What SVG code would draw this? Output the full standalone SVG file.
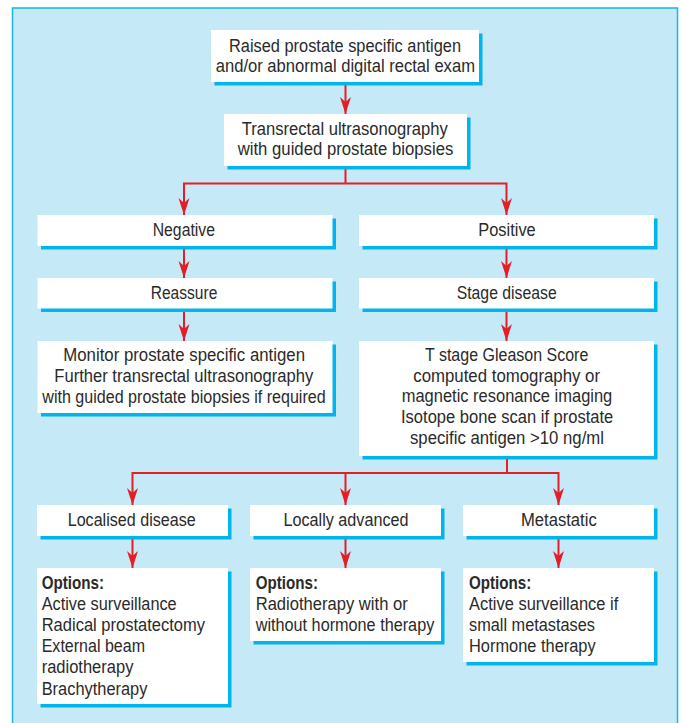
<svg xmlns="http://www.w3.org/2000/svg" width="682" height="723" viewBox="0 0 682 723">
<defs>
<style>
.bx{fill:#ffffff}
.sh{fill:#00B4EC}
.t{font-family:"Liberation Sans Narrow","Liberation Sans",Arial,sans-serif;font-size:17.5px;fill:#2a2a2a}
.b{font-weight:bold}
.c{fill:none;stroke:#E31E26;stroke-width:2;stroke-linejoin:miter}
</style>
<marker id="ah" markerUnits="userSpaceOnUse" markerWidth="18" markerHeight="12" refX="17" refY="6" orient="auto">
<path d="M17,6 L0,0.5 L5,6 L0,11.5 Z" fill="#E31E26"/>
</marker>
</defs>
<rect x="0" y="0" width="682" height="723" fill="#ffffff"/>
<rect id="frame" x="12.5" y="8" width="665" height="730" fill="#C6E9F8" stroke="#17B5EA" stroke-width="1.5"/>

<g id="connectors">
<path class="c" d="M345.5,82 V114" marker-end="url(#ah)"/>
<path class="c" d="M345.5,166 V183.5"/>
<path class="c" d="M345.5,183.5 H184 V215" marker-end="url(#ah)"/>
<path class="c" d="M345.5,183.5 H506.5 V215" marker-end="url(#ah)"/>
<path class="c" d="M184,246 V278" marker-end="url(#ah)"/>
<path class="c" d="M184,308.5 V341" marker-end="url(#ah)"/>
<path class="c" d="M506.5,246 V278" marker-end="url(#ah)"/>
<path class="c" d="M506.5,308.5 V341" marker-end="url(#ah)"/>
<path class="c" d="M507,456 V473"/>
<path class="c" d="M507,473 H132.5 V505" marker-end="url(#ah)"/>
<path class="c" d="M507,473 H558.5 V505" marker-end="url(#ah)"/>
<path class="c" d="M345.5,473 V505" marker-end="url(#ah)"/>
<path class="c" d="M132.5,536 V568" marker-end="url(#ah)"/>
<path class="c" d="M345.5,536 V568" marker-end="url(#ah)"/>
<path class="c" d="M558.5,536 V568" marker-end="url(#ah)"/>
</g>

<g id="n-raised">
<rect class="sh" x="214.5" y="33.5" width="268" height="52"/>
<rect class="bx" x="211" y="30" width="268" height="52"/>
<text class="t" x="229" y="51.5" textLength="232" lengthAdjust="spacingAndGlyphs">Raised prostate specific antigen</text>
<text class="t" x="215.7" y="71.7" textLength="259.3" lengthAdjust="spacingAndGlyphs">and/or abnormal digital rectal exam</text>
</g>

<g id="n-trus">
<rect class="sh" x="227.5" y="117.5" width="243" height="52"/>
<rect class="bx" x="224" y="114" width="243" height="52"/>
<text class="t" x="241.7" y="134.5" textLength="206" lengthAdjust="spacingAndGlyphs">Transrectal ultrasonography</text>
<text class="t" x="237.7" y="155" textLength="215.6" lengthAdjust="spacingAndGlyphs">with guided prostate biopsies</text>
</g>

<g id="n-negative">
<rect class="sh" x="41" y="218.5" width="295" height="31"/>
<rect class="bx" x="37.5" y="215" width="295" height="31"/>
<text class="t" x="152.7" y="235.5" textLength="62.3" lengthAdjust="spacingAndGlyphs">Negative</text>
</g>

<g id="n-positive">
<rect class="sh" x="362.5" y="218.5" width="295" height="31"/>
<rect class="bx" x="359" y="215" width="295" height="31"/>
<text class="t" x="478.3" y="235.5" textLength="57.4" lengthAdjust="spacingAndGlyphs">Positive</text>
</g>

<g id="n-reassure">
<rect class="sh" x="41" y="281.5" width="295" height="30.5"/>
<rect class="bx" x="37.5" y="278" width="295" height="30.5"/>
<text class="t" x="150.7" y="298.5" textLength="66.6" lengthAdjust="spacingAndGlyphs">Reassure</text>
</g>

<g id="n-stage">
<rect class="sh" x="362.5" y="281.5" width="295" height="30.5"/>
<rect class="bx" x="359" y="278" width="295" height="30.5"/>
<text class="t" x="456.7" y="298.5" textLength="100" lengthAdjust="spacingAndGlyphs">Stage disease</text>
</g>

<g id="n-monitor">
<rect class="sh" x="41" y="344.5" width="295" height="72"/>
<rect class="bx" x="37.5" y="341" width="295" height="72"/>
<text class="t" x="63.3" y="360.7" textLength="241.7" lengthAdjust="spacingAndGlyphs">Monitor prostate specific antigen</text>
<text class="t" x="54.3" y="381.7" textLength="259" lengthAdjust="spacingAndGlyphs">Further transrectal ultrasonography</text>
<text class="t" x="42.3" y="402.7" textLength="283.4" lengthAdjust="spacingAndGlyphs">with guided prostate biopsies if required</text>
</g>

<g id="n-tstage">
<rect class="sh" x="362.5" y="344.5" width="295" height="115"/>
<rect class="bx" x="359" y="341" width="295" height="115"/>
<text class="t" x="425" y="360.5" textLength="163.3" lengthAdjust="spacingAndGlyphs">T stage Gleason Score</text>
<text class="t" x="413.3" y="381.5" textLength="186.7" lengthAdjust="spacingAndGlyphs">computed tomography or</text>
<text class="t" x="401.7" y="402" textLength="210.6" lengthAdjust="spacingAndGlyphs">magnetic resonance imaging</text>
<text class="t" x="401" y="422.8" textLength="212.3" lengthAdjust="spacingAndGlyphs">Isotope bone scan if prostate</text>
<text class="t" x="410" y="443.5" textLength="194" lengthAdjust="spacingAndGlyphs">specific antigen &gt;10 ng/ml</text>
</g>

<g id="n-localised">
<rect class="sh" x="40.5" y="508.5" width="191" height="31"/>
<rect class="bx" x="37" y="505" width="191" height="31"/>
<text class="t" x="67.7" y="525.7" textLength="128" lengthAdjust="spacingAndGlyphs">Localised disease</text>
</g>

<g id="n-locally">
<rect class="sh" x="253.5" y="508.5" width="191" height="31"/>
<rect class="bx" x="250" y="505" width="191" height="31"/>
<text class="t" x="283.5" y="525.7" textLength="125" lengthAdjust="spacingAndGlyphs">Locally advanced</text>
</g>

<g id="n-metastatic">
<rect class="sh" x="466.5" y="508.5" width="191" height="31"/>
<rect class="bx" x="463" y="505" width="191" height="31"/>
<text class="t" x="521" y="525.7" textLength="75.7" lengthAdjust="spacingAndGlyphs">Metastatic</text>
</g>

<g id="n-opt-localised">
<rect class="sh" x="40.5" y="571.5" width="191" height="136"/>
<rect class="bx" x="37" y="568" width="191" height="136"/>
<text class="t b" x="41.7" y="589" textLength="62.3" lengthAdjust="spacingAndGlyphs">Options:</text>
<text class="t" x="41.7" y="610" textLength="135" lengthAdjust="spacingAndGlyphs">Active surveillance</text>
<text class="t" x="41.7" y="631" textLength="163.3" lengthAdjust="spacingAndGlyphs">Radical prostatectomy</text>
<text class="t" x="41.7" y="652" textLength="103.3" lengthAdjust="spacingAndGlyphs">External beam</text>
<text class="t" x="41.7" y="673.3" textLength="91.7" lengthAdjust="spacingAndGlyphs">radiotherapy</text>
<text class="t" x="41.7" y="694.7" textLength="105.7" lengthAdjust="spacingAndGlyphs">Brachytherapy</text>
</g>

<g id="n-opt-locally">
<rect class="sh" x="253.5" y="571.5" width="191" height="73"/>
<rect class="bx" x="250" y="568" width="191" height="73"/>
<text class="t b" x="255.7" y="589" textLength="62.3" lengthAdjust="spacingAndGlyphs">Options:</text>
<text class="t" x="255.7" y="610" textLength="152" lengthAdjust="spacingAndGlyphs">Radiotherapy with or</text>
<text class="t" x="255.7" y="631" textLength="178.6" lengthAdjust="spacingAndGlyphs">without hormone therapy</text>
</g>

<g id="n-opt-metastatic">
<rect class="sh" x="466.5" y="571.5" width="191" height="94"/>
<rect class="bx" x="463" y="568" width="191" height="94"/>
<text class="t b" x="469" y="589" textLength="62.3" lengthAdjust="spacingAndGlyphs">Options:</text>
<text class="t" x="469" y="610" textLength="149.3" lengthAdjust="spacingAndGlyphs">Active surveillance if</text>
<text class="t" x="469" y="631" textLength="126" lengthAdjust="spacingAndGlyphs">small metastases</text>
<text class="t" x="469" y="652" textLength="126.7" lengthAdjust="spacingAndGlyphs">Hormone therapy</text>
</g>
</svg>
